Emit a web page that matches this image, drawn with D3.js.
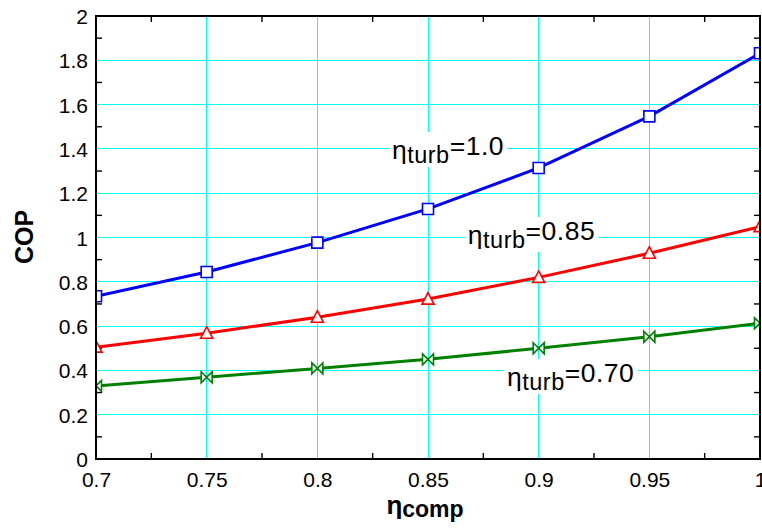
<!DOCTYPE html>
<html>
<head>
<meta charset="utf-8">
<script src="https://cdn.jsdelivr.net/npm/d3@7"></script>
<style>
  html, body { margin: 0; padding: 0; background: #fff; }
  svg { display: block; font-family: "Liberation Sans", Arial, Helvetica, sans-serif; }
</style>
</head>
<body>
<svg id="chart" width="762" height="531"></svg>
<script>
// ---- data ----
const etaComp = [0.70, 0.75, 0.80, 0.85, 0.90, 0.95, 1.00];
const copTurb100 = [0.735, 0.844, 0.977, 1.129, 1.314, 1.547, 1.832];
const copTurb085 = [0.505, 0.568, 0.640, 0.722, 0.820, 0.929, 1.049];
const copTurb070 = [0.330, 0.369, 0.409, 0.450, 0.500, 0.552, 0.613];
const xTickValues = [0.70, 0.75, 0.80, 0.85, 0.90, 0.95, 1.00];
const xTickLabels = ["0.7", "0.75", "0.8", "0.85", "0.9", "0.95", "1"];
const yTickValues = [0, 0.2, 0.4, 0.6, 0.8, 1.0, 1.2, 1.4, 1.6, 1.8, 2.0];
const yTickLabels = ["0", "0.2", "0.4", "0.6", "0.8", "1", "1.2", "1.4", "1.6", "1.8", "2"];
const xMinorTicks = [0.725, 0.775, 0.825, 0.875, 0.925, 0.975];
const yMinorTicks = [0.1, 0.3, 0.5, 0.7, 0.9, 1.1, 1.3, 1.5, 1.7, 1.9];
const seriesNames = ["1.0", "0.85", "0.70"];
const annotationX = [0.8337, 0.868, 0.8857];
const annotationY = [1.372, 0.989, 0.348];

const series = [
  { name: seriesNames[0], values: copTurb100, color: "#0000ff", marker: "square" },
  { name: seriesNames[1], values: copTurb085, color: "#ff0000", marker: "triangle" },
  { name: seriesNames[2], values: copTurb070, color: "#008000", marker: "bowtie" }
];

// ---- layout ----
const svg = d3.select("#chart");
const pL = 96, pR = 760, pT = 16, pB = 459;
const x = d3.scaleLinear().domain([0.7, 1.0]).range([pL, pR]);
const y = d3.scaleLinear().domain([0, 2]).range([pB, pT]);

svg.append("defs").append("clipPath").attr("id", "plotClip")
  .append("rect").attr("x", pL).attr("y", pT)
  .attr("width", pR - pL).attr("height", pB - pT);

// grid
const grid = svg.append("g").attr("shape-rendering", "crispEdges")
  .attr("stroke", "#00ffff").attr("stroke-width", 1);
grid.selectAll("line.vx").data(xTickValues.slice(1, -1)).join("line")
  .attr("class", "vx")
  .attr("x1", d => Math.floor(x(d)) + 0.5).attr("x2", d => Math.floor(x(d)) + 0.5)
  .attr("y1", pT).attr("y2", pB);
grid.selectAll("line.hy").data(yTickValues.slice(1, -1)).join("line")
  .attr("class", "hy")
  .attr("y1", d => Math.floor(y(d)) + 0.5).attr("y2", d => Math.floor(y(d)) + 0.5)
  .attr("x1", pL).attr("x2", pR);

// minor ticks (inward on all four sides)
const tickLen = 6;
const tickG = svg.append("g").attr("stroke", "#000").attr("stroke-width", 1.4);
xMinorTicks.forEach(v => {
  tickG.append("line").attr("x1", x(v)).attr("x2", x(v)).attr("y1", pB).attr("y2", pB - tickLen);
  tickG.append("line").attr("x1", x(v)).attr("x2", x(v)).attr("y1", pT).attr("y2", pT + tickLen);
});
yMinorTicks.forEach(v => {
  tickG.append("line").attr("y1", y(v)).attr("y2", y(v)).attr("x1", pL).attr("x2", pL + tickLen);
  tickG.append("line").attr("y1", y(v)).attr("y2", y(v)).attr("x1", pR).attr("x2", pR - tickLen);
});

// annotations with white background
const annG = svg.append("g");
series.forEach((s, i) => {
  const g = annG.append("g");
  const t = g.append("text")
    .attr("x", x(annotationX[i])).attr("y", y(annotationY[i]))
    .attr("fill", "#000").attr("font-size", 26.5).attr("letter-spacing", 0.5);
  t.append("tspan").attr("dy", 4).attr("font-size", 26.5).text("η");
  t.append("tspan").attr("dy", 4).attr("font-size", 23.5).text("turb");
  t.append("tspan").attr("dy", -8).attr("font-size", 26.5).text("=" + s.name);
  const bb = t.node().getBBox();
  g.insert("rect", "text").attr("x", bb.x - 3).attr("y", bb.y + 1)
    .attr("width", bb.width + 6).attr("height", bb.height - 2).attr("fill", "#fff");
});

// lines and markers
const plot = svg.append("g").attr("clip-path", "url(#plotClip)");
const line = d3.line().x((d, i) => x(etaComp[i])).y(d => y(d));
const ms = 5.5;
const markerPath = {
  square: `M${-ms},${-ms}H${ms}V${ms}H${-ms}Z`,
  triangle: `M0,${-ms - 1}L${ms + 0.5},${ms - 0.5}L${-ms - 0.5},${ms - 0.5}Z`,
  bowtie: `M${-ms},${-ms}L${ms},${ms}V${-ms}L${-ms},${ms}Z`
};
series.forEach(s => {
  plot.append("path").datum(s.values).attr("d", line)
    .attr("fill", "none").attr("stroke", s.color).attr("stroke-width", 3)
    .attr("stroke-linejoin", "round");
  plot.selectAll(null).data(s.values).join("path")
    .attr("transform", (d, i) => `translate(${x(etaComp[i])},${y(d)})`)
    .attr("d", markerPath[s.marker])
    .attr("fill", "#fff").attr("stroke", s.color).attr("stroke-width", 1.6);
});

// frame
svg.append("rect").attr("x", pL).attr("y", pT)
  .attr("width", pR - pL).attr("height", pB - pT)
  .attr("fill", "none").attr("stroke", "#000").attr("stroke-width", 2);

// axis labels via d3 axes (no lines)
const xAxis = d3.axisBottom(x).tickValues(xTickValues)
  .tickFormat((d, i) => xTickLabels[i]).tickSize(0).tickPadding(0);
const gx = svg.append("g").attr("transform", `translate(0,${pB})`).call(xAxis);
gx.select(".domain").remove();
gx.selectAll("text").attr("font-size", 21).attr("font-family", "Liberation Sans, Arial, sans-serif")
  .attr("fill", "#000").attr("y", 28).attr("dy", 0);

const yAxis = d3.axisLeft(y).tickValues(yTickValues)
  .tickFormat((d, i) => yTickLabels[i]).tickSize(0).tickPadding(0);
const gy = svg.append("g").attr("transform", `translate(${pL - 8},0)`).call(yAxis);
gy.select(".domain").remove();
gy.selectAll("text").attr("font-size", 21).attr("font-family", "Liberation Sans, Arial, sans-serif")
  .attr("fill", "#000").attr("x", 0).attr("dy", "0.36em");

// axis titles
const xt = svg.append("text").attr("x", 425).attr("y", 514)
  .attr("text-anchor", "middle").attr("font-weight", "bold").attr("fill", "#000");
xt.append("tspan").attr("font-size", 26).text("η");
xt.append("tspan").attr("font-size", 23).attr("dy", 3).text("comp");

svg.append("text")
  .attr("transform", "translate(33,237) rotate(-90)")
  .attr("text-anchor", "middle").attr("font-weight", "bold")
  .attr("font-size", 25).attr("fill", "#000").text("COP");
</script>
</body>
</html>
